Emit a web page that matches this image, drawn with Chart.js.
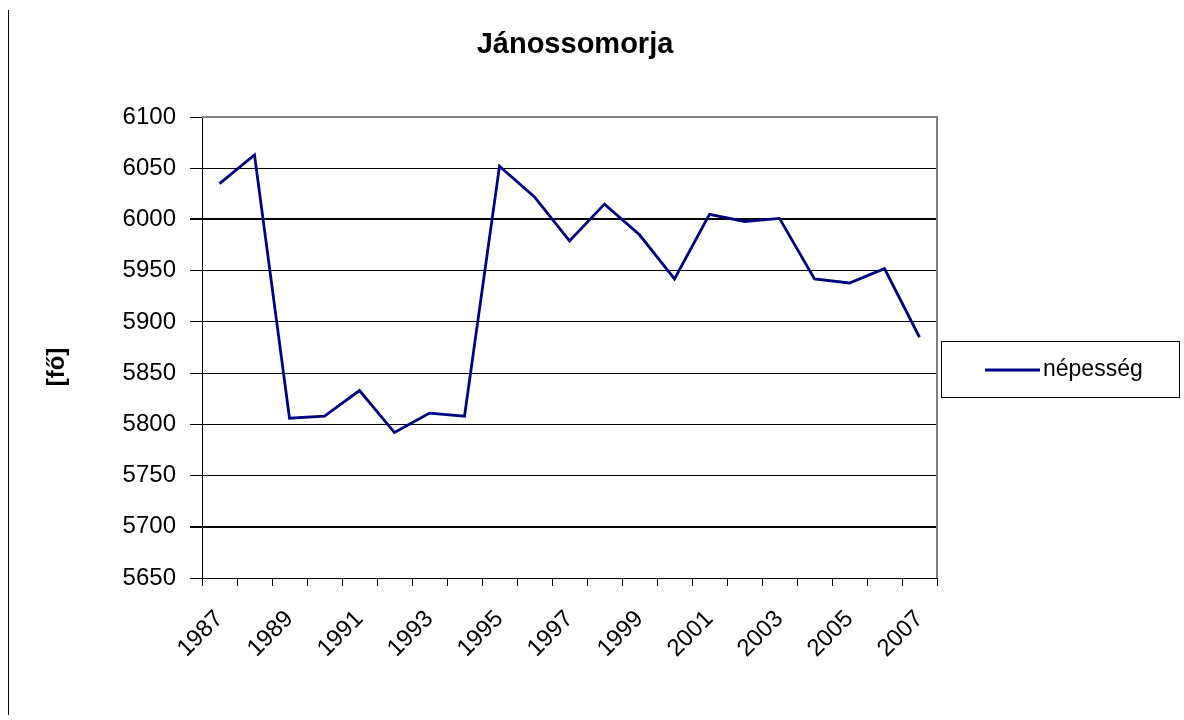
<!DOCTYPE html>
<html>
<head>
<meta charset="utf-8">
<script src="https://cdn.jsdelivr.net/npm/chart.js@4"></script>
<style>
  html, body { margin: 0; padding: 0; background: #fff; }
  #wrap { position: relative; width: 1184px; height: 720px; }
  #edge { position: absolute; left: 8px; top: 10px; height: 705px; border-left: 1px solid #000; }
</style>
</head>
<body>
<div id="wrap">
  <div id="edge"></div>
  <canvas id="chart" width="1184" height="720"></canvas>
</div>
<script>
// data
const years = ["1987", "1988", "1989", "1990", "1991", "1992", "1993", "1994", "1995", "1996", "1997",
  "1998", "1999", "2000", "2001", "2002", "2003", "2004", "2005", "2006", "2007"];
const population = [6035, 6063, 5806, 5808, 5833, 5792, 5811, 5808, 6052, 6022, 5979,
  6015, 5985, 5942, 6005, 5998, 6001, 5942, 5938, 5952, 5885];
const yMin = 5650;
const yMax = 6100;
const yStep = 50;
const chartTitle = "Jánossomorja";
const yTitle = "[fő]";

const FONT = "'Liberation Sans', Arial, sans-serif";
Chart.defaults.font.family = FONT;
Chart.defaults.color = "#000";

// gray frame on top/right, titles and boxed legend like the excel chart
const extras = {
  id: "extras",
  afterDraw(chart) {
    const { ctx, chartArea } = chart;
    ctx.save();
    ctx.strokeStyle = "#808080";
    ctx.lineWidth = 2;
    ctx.beginPath();
    ctx.moveTo(chartArea.left, chartArea.top);
    ctx.lineTo(chartArea.right, chartArea.top);
    ctx.lineTo(chartArea.right, chartArea.bottom);
    ctx.stroke();

    ctx.fillStyle = "#000";
    ctx.textAlign = "center";
    ctx.textBaseline = "middle";
    ctx.font = "bold 29px " + FONT;
    ctx.fillText(chartTitle, 575, 45);

    // y axis title
    ctx.translate(57, 367);
    ctx.rotate(-Math.PI / 2);
    ctx.font = "bold 24px " + FONT;
    ctx.fillText(yTitle, 0, 0);
    ctx.restore();

    // legend
    const ds = chart.data.datasets[0];
    ctx.save();
    ctx.strokeStyle = "#000";
    ctx.lineWidth = 1;
    ctx.strokeRect(941.5, 341.5, 238, 56);
    ctx.strokeStyle = ds.borderColor;
    ctx.lineWidth = 3;
    ctx.beginPath();
    ctx.moveTo(985, 370);
    ctx.lineTo(1040, 370);
    ctx.stroke();
    ctx.font = "23px " + FONT;
    ctx.fillStyle = "#000";
    ctx.textBaseline = "middle";
    ctx.fillText(ds.label, 1043, 370);
    ctx.restore();
  }
};

const gridColor = (c) => (c.tick && c.tick.value === yMax ? "rgba(0,0,0,0)" : "#000");
const gridWidth = (c) => (c.tick && (c.tick.value === 6000 || c.tick.value === 5700) ? 2 : 1);

new Chart(document.getElementById("chart"), {
  type: "line",
  data: {
    labels: years,
    datasets: [
      {
        label: "népesség",
        data: population,
        borderColor: "#000080",
        backgroundColor: "#000080",
        borderWidth: 2.8,
        pointRadius: 0,
        tension: 0,
      },
    ],
  },
  options: {
    responsive: false,
    animation: false,
    layout: { padding: { left: 10, right: 247, top: 117, bottom: 0 } },
    plugins: {
      legend: { display: false },
      tooltip: { enabled: false },
      title: { display: false },
    },
    scales: {
      x: {
        type: "category",
        offset: true,
        afterFit: (axis) => { axis.height = 142; },
        grid: { offset: true, drawOnChartArea: false, drawTicks: true, tickLength: 8, color: "#000" },
        border: { color: "#000", width: 1 },
        ticks: {
          autoSkip: false,
          minRotation: 45,
          maxRotation: 45,
          padding: 19,
          labelOffset: 0,
          font: { size: 24 },
          color: "#000",
          callback: (v, i) => (i % 2 === 0 ? years[i] : ""),
        },
      },
      y: {
        min: yMin,
        max: yMax,
        afterFit: (axis) => { axis.width = 192; },
        grid: { color: gridColor, lineWidth: gridWidth, tickColor: "#000", tickLength: 12 },
        border: { color: "#000", width: 1 },
        ticks: { stepSize: yStep, padding: 14, font: { size: 24 }, color: "#000", callback: (v) => String(v) },
      },
    },
  },
  plugins: [extras],
});
</script>
</body>
</html>
